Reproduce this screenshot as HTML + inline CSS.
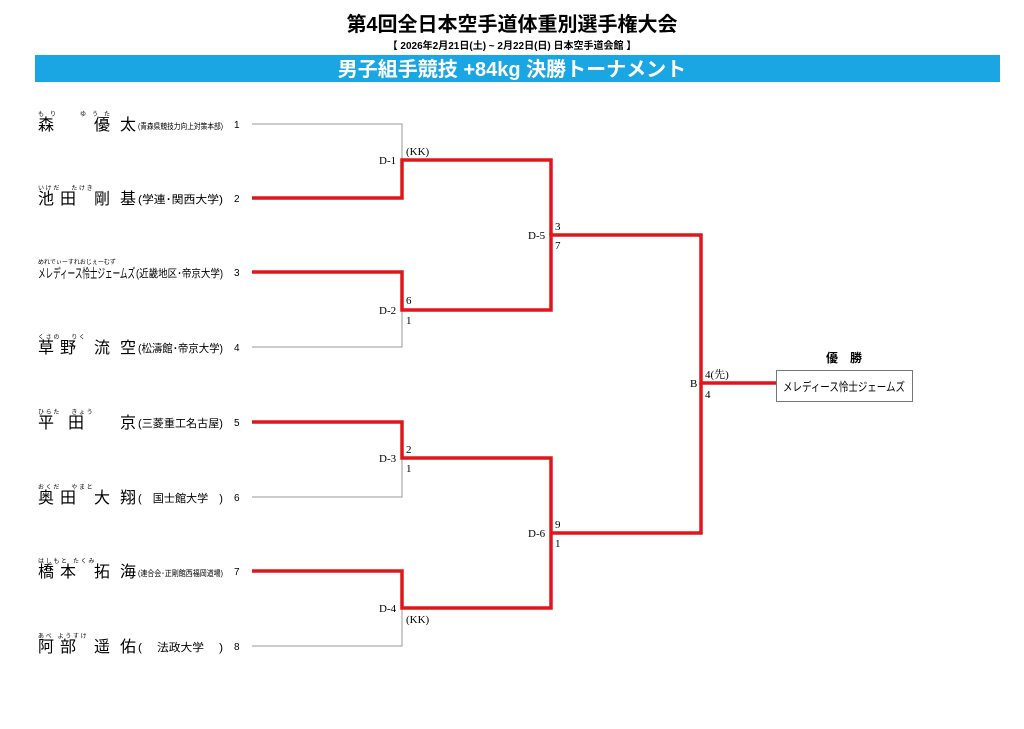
<!DOCTYPE html>
<html><head><meta charset="utf-8"><style>
body{margin:0;width:1024px;height:724px;background:#fff;overflow:hidden}
svg text{font-family:"Liberation Sans","Noto Sans CJK JP",sans-serif}
.s{font-family:"Liberation Serif","Noto Serif CJK SC",serif;font-size:11px}
</style></head><body>
<svg width="1024" height="724" xmlns="http://www.w3.org/2000/svg">
<text x="512" y="31" text-anchor="middle" font-size="20" font-weight="bold">第4回全日本空手道体重別選手権大会</text>
<text x="512" y="49" text-anchor="middle" font-size="10" font-weight="bold">【 2026年2月21日(土) ~ 2月22日(日)  日本空手道会館 】</text>
<rect x="35" y="55" width="965" height="27" fill="#1aa6e2"/>
<text x="512" y="76" text-anchor="middle" font-size="20" font-weight="bold" fill="#fff">男子組手競技 +84kg 決勝トーナメント</text>
<g fill="none" stroke="#999" stroke-width="1">
<path d="M252 124H402V160"/><path d="M252 347H402V310"/><path d="M252 497H402V458"/><path d="M252 646H402V608"/>
</g>
<g fill="none" stroke="#e0161b" stroke-width="3.5">
<path d="M252 198H402V160H551V235"/>
<path d="M252 272H402V310H551V235H701V383H776"/>
<path d="M252 422H402V458H551V608H402V571H252"/>
<path d="M551 533H701V383"/>
</g>
<g font-size="16">
<text x="38" y="130">森</text><text x="94" y="130">優</text><text x="120" y="130">太</text>
<text x="38" y="204">池</text><text x="60" y="204">田</text><text x="94" y="204">剛</text><text x="120" y="204">基</text>
<text x="38" y="278" font-size="13" textLength="97" lengthAdjust="spacingAndGlyphs">メレディース怜士ジェームズ</text>
<text x="38" y="353">草</text><text x="60" y="353">野</text><text x="94" y="353">流</text><text x="120" y="353">空</text>
<text x="38" y="428">平</text><text x="68" y="428">田</text><text x="120" y="428">京</text>
<text x="38" y="503">奥</text><text x="60" y="503">田</text><text x="94" y="503">大</text><text x="120" y="503">翔</text>
<text x="38" y="577">橋</text><text x="60" y="577">本</text><text x="94" y="577">拓</text><text x="120" y="577">海</text>
<text x="38" y="652">阿</text><text x="60" y="652">部</text><text x="94" y="652">遥</text><text x="120" y="652">佑</text>
</g>
<g font-size="6">
<text x="38" y="116">も　り　　　　ゆ　う　た</text>
<text x="38" y="190">い け だ　　た け き</text>
<text x="38" y="264">めれでぃーすれおじぇーむず</text>
<text x="38" y="339">く さ の　　り く</text>
<text x="38" y="414">ひ ら た　　き ょ う</text>
<text x="38" y="489">お く だ　　や ま と</text>
<text x="38" y="563">は し も と　た く み</text>
<text x="38" y="638">あ べ　よ う す け</text>
</g>
<g font-size="11">
<text x="138" y="129" font-size="8" textLength="85" lengthAdjust="spacingAndGlyphs">(青森県競技力向上対策本部)</text>
<text x="138" y="203" textLength="85" lengthAdjust="spacingAndGlyphs">(学連･関西大学)</text>
<text x="136" y="277" textLength="87" lengthAdjust="spacingAndGlyphs">(近畿地区･帝京大学)</text>
<text x="138" y="352" textLength="85" lengthAdjust="spacingAndGlyphs">(松濤館･帝京大学)</text>
<text x="138" y="427" textLength="85" lengthAdjust="spacingAndGlyphs">(三菱重工名古屋)</text>
<text x="138" y="502" textLength="85" lengthAdjust="spacingAndGlyphs">(　国士館大学　)</text>
<text x="138" y="576" font-size="8" textLength="85" lengthAdjust="spacingAndGlyphs">(連合会･正剛館西福岡道場)</text>
<text x="138" y="651" textLength="85" lengthAdjust="spacingAndGlyphs">(　 法政大学　 )</text>
</g>
<g font-size="10">
<text x="234" y="128">1</text><text x="234" y="202">2</text>
<text x="234" y="276">3</text><text x="234" y="351">4</text>
<text x="234" y="426">5</text><text x="234" y="501">6</text>
<text x="234" y="575">7</text><text x="234" y="650">8</text>
</g>
<g class="s">
<text x="379" y="164" class="s">D-1</text><text x="406" y="155" class="s">(KK)</text>
<text x="379" y="314" class="s">D-2</text><text x="406" y="304" class="s">6</text><text x="406" y="324" class="s">1</text>
<text x="379" y="462" class="s">D-3</text><text x="406" y="453" class="s">2</text><text x="406" y="472" class="s">1</text>
<text x="379" y="612" class="s">D-4</text><text x="406" y="623" class="s">(KK)</text>
<text x="528" y="239" class="s">D-5</text><text x="555" y="230" class="s">3</text><text x="555" y="249" class="s">7</text>
<text x="528" y="537" class="s">D-6</text><text x="555" y="528" class="s">9</text><text x="555" y="547" class="s">1</text>
<text x="690" y="387" class="s">B</text><text x="705" y="378" class="s">4(先)</text><text x="705" y="398" class="s">4</text>
</g>
<text x="844" y="362" text-anchor="middle" font-size="12" font-weight="bold">優　勝</text>
<rect x="776.5" y="370.5" width="136" height="31" fill="#fff" stroke="#777"/>
<text x="844" y="391" text-anchor="middle" font-size="12" textLength="122" lengthAdjust="spacingAndGlyphs">メレディース怜士ジェームズ</text>
</svg>
</body></html>
